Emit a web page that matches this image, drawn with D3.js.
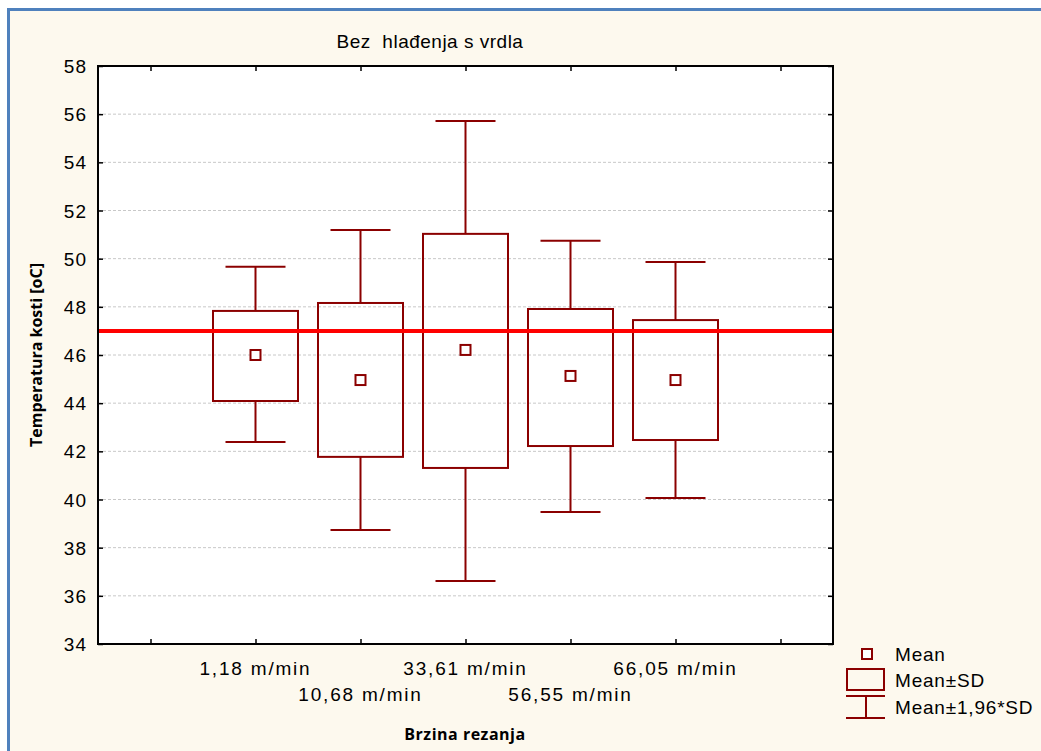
<!DOCTYPE html>
<html>
<head>
<meta charset="utf-8">
<script src="https://cdn.jsdelivr.net/npm/d3@7"></script>
<style>
  html, body { margin: 0; padding: 0; background: #ffffff; }
  svg { display: block; }
</style>
</head>
<body>
<div id="chart"></div>
<script>
// ---- data ----
const categories = ['1,18 m/min', '10,68 m/min', '33,61 m/min', '56,55 m/min', '66,05 m/min'];
const means      = [46.0, 44.96, 46.21, 45.13, 44.96];
const sdLow      = [44.09, 41.77, 41.31, 42.22, 42.47];
const sdHigh     = [47.83, 48.16, 51.03, 47.91, 47.45];
const ciLow      = [42.39, 38.73, 36.62, 39.48, 40.06];
const ciHigh     = [49.66, 51.19, 55.72, 50.74, 49.86];
const yTicks     = [34, 36, 38, 40, 42, 44, 46, 48, 50, 52, 54, 56, 58];
const refLine    = 47;
const legendItems = ['Mean', 'Mean±SD', 'Mean±1,96*SD'];

const W = 1041, H = 751;
const plot = { left: 98, right: 833, top: 66, bottom: 644 };
const dark = '#8b0000';
const font = 'Liberation Sans, Arial, sans-serif';

const svg = d3.select('#chart').append('svg')
  .attr('width', W).attr('height', H);

// page frame
svg.append('rect')
  .attr('x', 8.5).attr('y', 9.5)
  .attr('width', W).attr('height', H)
  .attr('fill', '#fdf9ee')
  .attr('stroke', '#4f81bd').attr('stroke-width', 3);

const x = d3.scaleLinear().domain([-0.5, 6.5]).range([plot.left, plot.right]);
const y = d3.scaleLinear().domain([34, 58]).range([plot.bottom, plot.top]);

// plot background
svg.append('rect')
  .attr('x', plot.left).attr('y', plot.top)
  .attr('width', plot.right - plot.left).attr('height', plot.bottom - plot.top)
  .attr('fill', '#ffffff');

// dashed grid
svg.append('g')
  .selectAll('line')
  .data(yTicks.slice(1, -1))
  .join('line')
  .attr('x1', plot.left).attr('x2', plot.right)
  .attr('y1', d => y(d)).attr('y2', d => y(d))
  .attr('stroke', '#c8c8c8').attr('stroke-width', 1)
  .attr('stroke-dasharray', '3,2');

// axes (ticks inward on all sides)
const xTickVals = d3.range(0, 7);
svg.append('g')
  .attr('transform', `translate(0,${plot.bottom})`)
  .call(d3.axisTop(x).tickValues(xTickVals).tickSize(5).tickFormat(''))
  .call(g => g.select('.domain').remove());
svg.append('g')
  .attr('transform', `translate(0,${plot.top})`)
  .call(d3.axisBottom(x).tickValues(xTickVals).tickSize(5).tickFormat(''))
  .call(g => g.select('.domain').remove());
svg.append('g')
  .attr('transform', `translate(${plot.left},0)`)
  .call(d3.axisRight(y).tickValues(yTicks).tickSize(5).tickFormat(''))
  .call(g => g.select('.domain').remove());
svg.append('g')
  .attr('transform', `translate(${plot.right},0)`)
  .call(d3.axisLeft(y).tickValues(yTicks).tickSize(5).tickFormat(''))
  .call(g => g.select('.domain').remove());
svg.selectAll('.tick line').attr('stroke', '#000').attr('stroke-width', 1.5);

// y tick labels
svg.append('g')
  .selectAll('text')
  .data(yTicks)
  .join('text')
  .attr('x', plot.left - 11)
  .attr('y', d => y(d) + 7)
  .attr('text-anchor', 'end')
  .attr('font-family', font).attr('font-size', 19)
  .attr('letter-spacing', 1)
  .text(d => d);

// x tick labels, staggered on two rows
svg.append('g')
  .selectAll('text')
  .data(categories)
  .join('text')
  .attr('x', (d, i) => x(i + 1))
  .attr('y', (d, i) => i % 2 === 0 ? 675 : 701)
  .attr('text-anchor', 'middle')
  .attr('font-family', font).attr('font-size', 19)
  .attr('letter-spacing', 1.8)
  .text(d => d);

// boxes
const boxW = 85, capW = 60, sq = 10;
const boxes = svg.append('g');
categories.forEach((c, i) => {
  const cx = x(i + 1);
  const g = boxes.append('g').attr('stroke', dark).attr('stroke-width', 2).attr('fill', 'none');
  g.append('line').attr('x1', cx).attr('x2', cx).attr('y1', y(ciHigh[i])).attr('y2', y(sdHigh[i]));
  g.append('line').attr('x1', cx).attr('x2', cx).attr('y1', y(sdLow[i])).attr('y2', y(ciLow[i]));
  g.append('line').attr('x1', cx - capW / 2).attr('x2', cx + capW / 2).attr('y1', y(ciHigh[i])).attr('y2', y(ciHigh[i]));
  g.append('line').attr('x1', cx - capW / 2).attr('x2', cx + capW / 2).attr('y1', y(ciLow[i])).attr('y2', y(ciLow[i]));
  g.append('rect')
    .attr('x', cx - boxW / 2).attr('y', y(sdHigh[i]))
    .attr('width', boxW).attr('height', y(sdLow[i]) - y(sdHigh[i]));
  g.append('rect')
    .attr('x', cx - sq / 2).attr('y', y(means[i]) - sq / 2)
    .attr('width', sq).attr('height', sq).attr('fill', '#fff');
});

// reference line
svg.append('line')
  .attr('x1', plot.left).attr('x2', plot.right)
  .attr('y1', y(refLine)).attr('y2', y(refLine))
  .attr('stroke', '#ff0000').attr('stroke-width', 4);

// frame
svg.append('rect')
  .attr('x', plot.left).attr('y', plot.top)
  .attr('width', plot.right - plot.left).attr('height', plot.bottom - plot.top)
  .attr('fill', 'none').attr('stroke', '#000').attr('stroke-width', 2);

// titles
svg.append('text')
  .attr('x', 430).attr('y', 48)
  .attr('text-anchor', 'middle')
  .attr('font-family', font).attr('font-size', 19)
  .attr('letter-spacing', 0.5)
  .attr('xml:space', 'preserve')
  .text('Bez  hlađenja s vrdla');
svg.append('text')
  .attr('x', 465).attr('y', 740)
  .attr('text-anchor', 'middle')
  .attr('font-family', 'Open Sans, sans-serif').attr('font-size', 16).attr('font-weight', 'bold')
  .attr('letter-spacing', 0.5)
  .text('Brzina rezanja');
svg.append('text')
  .attr('transform', `translate(42,${(plot.top + plot.bottom) / 2}) rotate(-90)`)
  .attr('text-anchor', 'middle')
  .attr('font-family', 'Open Sans, sans-serif').attr('font-size', 16).attr('font-weight', 'bold')
  .text('Temperatura kosti [oC]');

// legend
const lg = svg.append('g');
const rowY = [654, 680, 707];
lg.append('rect').attr('x', 862).attr('y', 649).attr('width', 10).attr('height', 10)
  .attr('fill', '#fff').attr('stroke', dark).attr('stroke-width', 2);
lg.append('rect').attr('x', 847).attr('y', 669).attr('width', 37).attr('height', 21)
  .attr('fill', 'none').attr('stroke', dark).attr('stroke-width', 2);
lg.append('line').attr('x1', 846).attr('x2', 885).attr('y1', 696).attr('y2', 696).attr('stroke', dark).attr('stroke-width', 2);
lg.append('line').attr('x1', 846).attr('x2', 885).attr('y1', 718).attr('y2', 718).attr('stroke', dark).attr('stroke-width', 2);
lg.append('line').attr('x1', 866).attr('x2', 866).attr('y1', 696).attr('y2', 718).attr('stroke', dark).attr('stroke-width', 2);
lg.selectAll('text')
  .data(legendItems)
  .join('text')
  .attr('x', 895)
  .attr('y', (d, i) => rowY[i] + 7)
  .attr('font-family', font).attr('font-size', 19)
  .attr('letter-spacing', 0.8)
  .text(d => d);
</script>
</body>
</html>
